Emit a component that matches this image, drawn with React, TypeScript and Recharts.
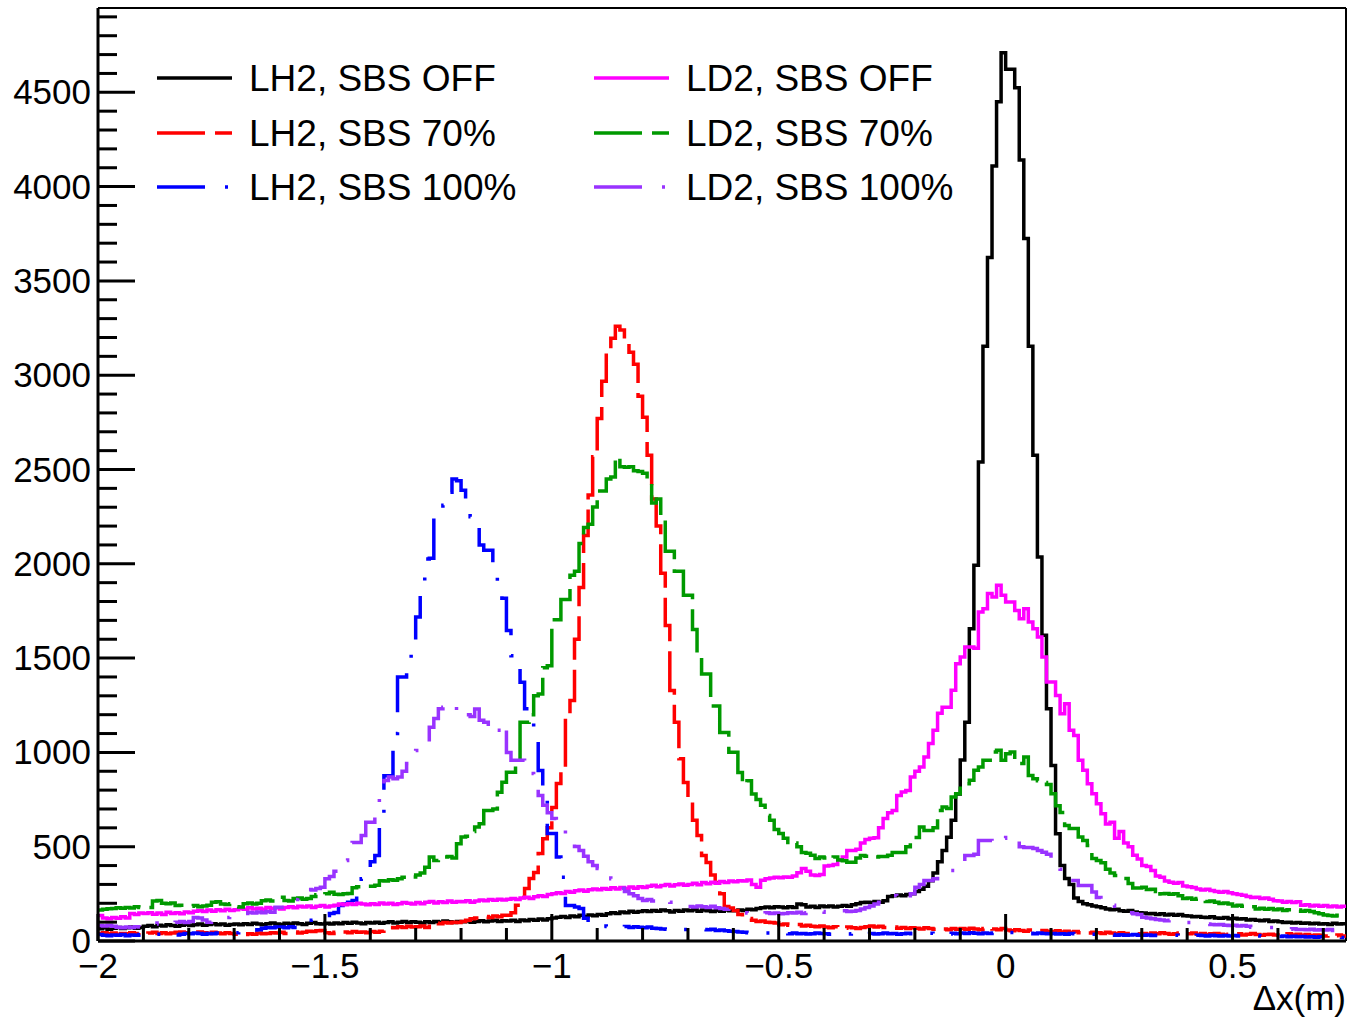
import React from 'react';
import { LineChart, Line, XAxis, YAxis, ReferenceLine, Legend } from 'recharts';

// canvas and plot frame (pixels)
const WIDTH = 1348;
const HEIGHT = 1018;
const PLOT_LEFT = 98;
const PLOT_TOP = 8;
const PLOT_RIGHT = 1346;
const PLOT_BOTTOM = 941;
const FONT = '"Liberation Sans", Arial, Helvetica, sans-serif';

const X_MIN = -2;
const X_MAX = 0.75;
const BIN_WIDTH = 0.01;
const Y_MAX = 4947;

const xMajorTicks = [-2, -1.5, -1, -0.5, 0, 0.5];
const xTickLabels = ['−2', '−1.5', '−1', '−0.5', '0', '0.5'];
const xMinorTicks = [
  -2, -1.9, -1.8, -1.7, -1.6, -1.5, -1.4, -1.3, -1.2, -1.1, -1, -0.9, -0.8, -0.7,
  -0.6, -0.5, -0.4, -0.3, -0.2, -0.1, 0, 0.1, 0.2, 0.3, 0.4, 0.5, 0.6, 0.7,
];
const yMajorTicks = [0, 500, 1000, 1500, 2000, 2500, 3000, 3500, 4000, 4500];
const yTickLabels = ['0', '500', '1000', '1500', '2000', '2500', '3000', '3500', '4000', '4500'];
const yMinorTicks = [
  0, 100, 200, 300, 400, 500, 600, 700, 800, 900, 1000, 1100, 1200, 1300, 1400, 1500, 1600,
  1700, 1800, 1900, 2000, 2100, 2200, 2300, 2400, 2500, 2600, 2700, 2800, 2900, 3000, 3100,
  3200, 3300, 3400, 3500, 3600, 3700, 3800, 3900, 4000, 4100, 4200, 4300, 4400, 4500, 4600,
  4700, 4800, 4900,
];

// bin contents, 0.01 m bins from -2.00 to 0.74 (one row = 0.1 m)
const lh2SbsOff = [
  65, 70, 62, 68, 72, 66, 70, 74, 68, 72,
  78, 82, 76, 84, 80, 86, 82, 78, 84, 88,
  82, 86, 90, 84, 88, 92, 86, 90, 84, 88,
  90, 86, 92, 88, 94, 90, 86, 92, 96, 90,
  88, 94, 90, 96, 92, 88, 94, 98, 92, 90,
  94, 90, 96, 92, 98, 94, 100, 96, 92, 98,
  96, 100, 94, 98, 102, 96, 100, 104, 98, 102,
  100, 96, 102, 98, 104, 100, 106, 102, 98, 104,
  102, 106, 100, 104, 108, 102, 106, 110, 104, 108,
  106, 110, 104, 112, 108, 114, 110, 116, 112, 118,
  122, 126, 130, 124, 132, 128, 136, 130, 138, 134,
  140, 136, 144, 150, 146, 154, 150, 158, 152, 156,
  160, 156, 162, 158, 164, 160, 154, 162, 158, 164,
  160, 166, 158, 164, 160, 156, 162, 158, 164, 160,
  160, 164, 162, 168, 166, 172, 176, 180, 176, 182,
  180, 176, 182, 178, 196, 192, 180, 184, 178, 186,
  182, 186, 180, 184, 188, 184, 192, 198, 204, 206,
  204, 210, 206, 214, 236, 240, 244, 240, 246, 250,
  262, 274, 290, 320, 360, 420, 480, 550, 640, 780,
  960, 1160, 1656, 1992, 2540, 3154, 3624, 4109, 4450, 4710,
  4622, 4622, 4524, 4141, 3725, 3154, 2576, 2036, 1621, 1232,
  931, 569, 400, 331, 300, 228, 210, 198, 192, 186,
  182, 176, 170, 166, 168, 160, 158, 162, 154, 150,
  148, 144, 146, 140, 144, 138, 142, 136, 140, 134,
  132, 128, 130, 126, 124, 128, 122, 120, 124, 118,
  120, 116, 118, 112, 114, 110, 108, 112, 104, 106,
  102, 98, 100, 96, 98, 94, 96, 92, 94, 90,
  92, 88, 94, 90, 92,
];

const lh2Sbs70 = [
  40, 44, 38, 42, 36, 40, 38, 44, 40, 42,
  38, 42, 46, 40, 44, 38, 42, 46, 48, 44,
  46, 42, 48, 44, 40, 46, 42, 38, 44, 40,
  36, 40, 34, 38, 36, 42, 38, 40, 44, 42,
  46, 40, 44, 48, 42, 46, 52, 50, 54, 56,
  44, 40, 46, 42, 48, 44, 50, 46, 48, 44,
  50, 46, 52, 68, 72, 70, 76, 72, 78, 74,
  76, 80, 72, 90, 94, 92, 98, 96, 100, 98,
  104, 110, 118, 122, 126, 130, 124, 132, 128, 136,
  136, 150, 190, 231, 278, 331, 363, 464, 542, 600,
  708, 835, 904, 1203, 1275, 1600, 1875, 2150, 2365, 2567,
  2770, 2968, 3133, 3196, 3260, 3240, 3170, 3122, 3058, 2888,
  2777, 2576, 2343, 2200, 1950, 1673, 1328, 1160, 967, 840,
  745, 640, 560, 453, 416, 350, 310, 250, 183, 175,
  162, 140, 125, 119, 110, 103, 106, 100, 98, 96,
  86, 90, 84, 82, 88, 80, 84, 78, 76, 80,
  74, 70, 76, 72, 68, 74, 70, 66, 72, 76,
  80, 74, 78, 72, 70, 74, 68, 72, 66, 70,
  68, 64, 70, 66, 62, 68, 64, 60, 66, 62,
  66, 62, 68, 64, 60, 66, 70, 64, 60, 66,
  58, 54, 60, 56, 52, 58, 54, 50, 56, 52,
  50, 54, 48, 52, 46, 50, 44, 48, 42, 46,
  44, 40, 46, 42, 38, 44, 40, 36, 42, 38,
  40, 36, 42, 38, 44, 40, 36, 38, 42, 36,
  38, 42, 36, 40, 34, 38, 40, 36, 32, 36,
  34, 38, 32, 36, 40, 34, 30, 34, 36, 32,
  30, 34, 38, 32, 36, 30, 34, 28, 32, 30,
  26, 30, 28, 32, 26,
];

const lh2Sbs100 = [
  34, 30, 28, 32, 30, 34, 28, 32, 30, 34,
  30, 34, 32, 36, 30, 34, 38, 32, 36, 40,
  38, 42, 40, 36, 40, 38, 42, 44, 40, 46,
  44, 48, 46, 50, 48, 60, 68, 72, 70, 74,
  74, 70, 76, 72, 78, 84, 100, 110, 119, 130,
  135, 146, 151, 188, 196, 205, 215, 250, 330, 380,
  420, 453, 666, 876, 876, 1100, 1400, 1400, 1420, 1550,
  1718, 1903, 2026, 2030, 2257, 2280, 2310, 2380, 2450, 2440,
  2390, 2275, 2250, 2213, 2100, 2072, 2072, 1992, 1900, 1817,
  1647, 1513, 1513, 1372, 1232, 1200, 1100, 904, 745, 570,
  570, 445, 338, 188, 188, 180, 172, 120, 95, 95,
  90, 80, 77, 75, 78, 74, 77, 72, 76, 73,
  70, 74, 68, 66, 64, 62, 65, 60, 63, 61,
  60, 62, 58, 61, 59, 62, 56, 58, 55, 52,
  50, 48, 46, 44, 45, 42, 40, 43, 41, 40,
  38, 41, 39, 42, 38, 40, 37, 39, 42, 40,
  38, 36, 40, 38, 41, 37, 39, 36, 40, 38,
  40, 37, 39, 42, 38, 40, 36, 39, 41, 38,
  40, 43, 39, 41, 38, 42, 40, 37, 41, 39,
  42, 40, 44, 41, 38, 43, 40, 42, 39, 44,
  41, 45, 42, 40, 44, 41, 39, 42, 40, 38,
  40, 37, 39, 36, 40, 38, 35, 37, 34, 36,
  33, 35, 32, 34, 31, 33, 30, 32, 34, 31,
  30, 32, 29, 31, 33, 30, 28, 31, 29, 32,
  30, 28, 31, 29, 27, 30, 28, 26, 29, 27,
  29, 26, 28, 25, 27, 29, 26, 24, 27, 25,
  24, 26, 23, 25, 22, 24, 21, 23, 20, 22,
  21, 19, 22, 20, 18,
];

const ld2SbsOff = [
  135, 122, 118, 125, 120, 128, 122, 146, 140, 148,
  146, 150, 142, 148, 140, 152, 146, 150, 144, 154,
  150, 158, 162, 156, 164, 158, 166, 160, 168, 162,
  166, 172, 168, 176, 170, 174, 168, 178, 172, 176,
  170, 178, 182, 176, 184, 180, 186, 178, 184, 188,
  180, 186, 190, 196, 192, 198, 194, 200, 196, 192,
  198, 194, 202, 196, 200, 194, 198, 204, 200, 196,
  204, 198, 206, 210, 202, 208, 204, 212, 206, 210,
  208, 214, 206, 212, 218, 214, 220, 216, 222, 218,
  222, 226, 220, 228, 232, 226, 234, 240, 236, 246,
  250, 256, 252, 262, 258, 266, 270, 264, 272, 276,
  272, 278, 274, 282, 276, 284, 278, 286, 280, 288,
  284, 290, 296, 288, 294, 300, 292, 298, 302, 296,
  300, 306, 298, 310, 304, 312, 306, 316, 310, 318,
  314, 320, 318, 324, 300, 285, 322, 330, 334, 338,
  336, 340, 338, 344, 362, 385, 370, 350, 347, 352,
  398, 400, 405, 430, 445, 480, 480, 486, 520, 538,
  545, 548, 600, 650, 680, 692, 772, 790, 798, 869,
  900, 922, 975, 1047, 1117, 1207, 1240, 1240, 1329, 1470,
  1506, 1559, 1559, 1552, 1744, 1762, 1842, 1824, 1886, 1833,
  1797, 1797, 1753, 1709, 1762, 1691, 1656, 1612, 1506, 1373,
  1373, 1302, 1205, 1258, 1117, 1090, 958, 905, 834, 781,
  728, 675, 620, 630, 545, 580, 520, 500, 455, 435,
  400, 395, 374, 345, 338, 318, 312, 306, 310, 292,
  288, 284, 276, 270, 274, 268, 262, 258, 262, 256,
  250, 246, 242, 236, 230, 232, 226, 228, 222, 214,
  212, 206, 210, 204, 208, 190, 192, 186, 190, 184,
  188, 182, 186, 180, 184,
];

const ld2Sbs70 = [
  165, 168, 171, 172, 176, 174, 178, 175, 182, 178,
  180, 178, 212, 215, 200, 198, 202, 188, 190, 186,
  184, 188, 182, 186, 190, 205, 208, 196, 194, 197,
  182, 180, 198, 202, 196, 200, 214, 218, 212, 226,
  232, 215, 212, 225, 228, 222, 226, 236, 245, 242,
  250, 259, 248, 246, 250, 252, 282, 288, 285, 290,
  290, 295, 320, 318, 325, 322, 330, 338, 345, 340,
  350, 360, 391, 445, 427, 430, 445, 448, 440, 516,
  551, 556, 580, 604, 622, 692, 692, 700, 789, 842,
  895, 895, 948, 1160, 1160, 1200, 1300, 1310, 1449, 1460,
  1704, 1704, 1811, 1811, 1939, 1960, 2108, 2193, 2210, 2301,
  2386, 2386, 2450, 2460, 2567, 2514, 2512, 2515, 2493, 2490,
  2480, 2438, 2322, 2343, 2237, 2066, 2066, 1960, 1960, 1833,
  1833, 1652, 1512, 1416, 1416, 1246, 1246, 1106, 1106, 1001,
  1001, 894, 830, 850, 780, 750, 720, 666, 640, 591,
  570, 545, 512, 520, 500, 469, 465, 455, 438, 445,
  440, 432, 445, 430, 425, 418, 418, 440, 453, 450,
  453, 445, 448, 448, 455, 469, 469, 469, 500, 549,
  549, 604, 586, 586, 600, 692, 710, 703, 763, 781,
  834, 834, 852, 905, 922, 958, 958, 1002, 1011, 958,
  993, 1002, 941, 941, 975, 878, 860, 850, 840, 830,
  781, 717, 681, 613, 597, 597, 551, 533, 506, 438,
  427, 415, 380, 360, 347, 335, 331, 305, 281, 281,
  285, 273, 275, 232, 250, 252, 248, 250, 240, 225,
  228, 222, 225, 215, 209, 212, 205, 199, 202, 196,
  186, 190, 184, 188, 182, 170, 174, 168, 172, 166,
  170, 162, 166, 160, 164, 158, 162, 156, 150, 145,
  138, 135, 132, 136, 130,
];

const ld2Sbs100 = [
  82, 80, 84, 78, 73, 70, 74, 72, 76, 74,
  80, 86, 90, 96, 92, 98, 94, 100, 103, 98,
  104, 125, 122, 112, 100, 106, 110, 118, 124, 130,
  134, 140, 146, 151, 148, 154, 150, 156, 152, 179,
  179, 185, 200, 220, 240, 262, 273, 270, 278, 285,
  330, 342, 370, 400, 427, 460, 522, 522, 560, 630,
  630, 700, 760, 851, 869, 860, 869, 900, 941, 990,
  1010, 1047, 1047, 1133, 1180, 1232, 1240, 1250, 1258, 1187,
  1187, 1200, 1190, 1230, 1170, 1160, 1100, 1110, 1117, 1154,
  1000, 958, 958, 958, 930, 888, 830, 772, 720, 680,
  650, 640, 600, 554, 530, 501, 480, 450, 420, 400,
  385, 385, 360, 330, 300, 280, 262, 250, 240, 225,
  215, 220, 212, 218, 210, 215, 205, 198, 190, 185,
  183, 180, 186, 182, 178, 184, 176, 172, 168, 170,
  165, 162, 150, 148, 152, 146, 144, 150, 146, 148,
  144, 146, 150, 148, 152, 146, 150, 154, 150, 156,
  152, 158, 154, 156, 160, 156, 158, 162, 170, 178,
  185, 196, 205, 215, 230, 241, 235, 241, 224, 250,
  285, 300, 321, 321, 330, 350, 360, 374, 374, 410,
  410, 453, 453, 460, 533, 533, 533, 520, 540, 545,
  560, 560, 530, 500, 496, 496, 490, 480, 470, 460,
  440, 427, 380, 321, 321, 321, 294, 294, 294, 260,
  230, 199, 199, 190, 171, 171, 165, 150, 145, 140,
  126, 122, 118, 114, 112, 108, 110, 104, 102, 100,
  98, 95, 95, 92, 90, 88, 86, 88, 84, 82,
  84, 80, 82, 78, 73, 73, 70, 73, 72, 68,
  66, 64, 62, 65, 61, 61, 60, 62, 58, 60,
  58, 61, 56, 40, 30,
];

const SERIES = [
  { key: 'lh2Off', name: 'LH2, SBS OFF', color: '#000000', dash: undefined, values: lh2SbsOff },
  { key: 'lh2_70', name: 'LH2, SBS 70%', color: '#ff0000', dash: '48 10', values: lh2Sbs70 },
  { key: 'lh2_100', name: 'LH2, SBS 100%', color: '#0000ff', dash: '48 20 3 20', values: lh2Sbs100 },
  { key: 'ld2Off', name: 'LD2, SBS OFF', color: '#ff00ff', dash: undefined, values: ld2SbsOff },
  { key: 'ld2_70', name: 'LD2, SBS 70%', color: '#009900', dash: '48 10', values: ld2Sbs70 },
  { key: 'ld2_100', name: 'LD2, SBS 100%', color: '#9933ff', dash: '48 20 3 20', values: ld2Sbs100 },
];

// one point per bin low edge, plus the upper edge of the last bin so the step closes
const data: Array<Record<string, number>> = lh2SbsOff.map((_, i) => {
  const row: Record<string, number> = { x: Math.round((X_MIN + i * BIN_WIDTH) * 100) / 100 };
  SERIES.forEach(s => { row[s.key] = s.values[i]; });
  return row;
});
const lastRow: Record<string, number> = { x: X_MAX };
SERIES.forEach(s => { lastRow[s.key] = s.values[s.values.length - 1]; });
data.push(lastRow);

function XTick({ x, payload }: any) {
  const i = xMajorTicks.indexOf(payload.value);
  const len = i >= 0 ? 27 : 13;
  return (
    <g>
      <line x1={x} x2={x} y1={PLOT_BOTTOM} y2={PLOT_BOTTOM - len} stroke="#000" strokeWidth={3} />
      {i >= 0 && (
        <text x={x} y={978} textAnchor="middle" fontSize={35} fontFamily={FONT} fill="#000">
          {xTickLabels[i]}
        </text>
      )}
    </g>
  );
}

function YTick({ y, payload }: any) {
  const i = yMajorTicks.indexOf(payload.value);
  const len = i >= 0 ? 37 : 19;
  return (
    <g>
      <line x1={PLOT_LEFT} x2={PLOT_LEFT + len} y1={y} y2={y} stroke="#000" strokeWidth={3} />
      {i >= 0 && (
        <text x={91} y={y + 12} textAnchor="end" fontSize={35} fontFamily={FONT} fill="#000">
          {yTickLabels[i]}
        </text>
      )}
    </g>
  );
}

const LEGEND_ROWS = [78, 133, 187];
const LEGEND_COLS = [{ lineX: 157, textX: 249 }, { lineX: 594, textX: 686 }];

function LegendBox() {
  return (
    <svg width={WIDTH} height={220} style={{ display: 'block' }}>
      {SERIES.map((s, i) => {
        const col = LEGEND_COLS[Math.floor(i / 3)];
        const y = LEGEND_ROWS[i % 3];
        return (
          <g key={s.key}>
            <line x1={col.lineX} x2={col.lineX + 75} y1={y} y2={y} stroke={s.color}
              strokeWidth={3.5} strokeDasharray={s.dash} />
            <text x={col.textX} y={y + 13} fontSize={37} fontFamily={FONT} fill="#000">{s.name}</text>
          </g>
        );
      })}
    </svg>
  );
}

export default function App() {
  return (
    <div style={{ position: 'absolute', left: 0, top: 0, width: WIDTH, height: HEIGHT, background: '#fff' }}>
      <LineChart width={WIDTH} height={HEIGHT} data={data}
        margin={{ top: PLOT_TOP, right: WIDTH - PLOT_RIGHT, bottom: 0, left: 0 }}>
        <XAxis dataKey="x" type="number" domain={[X_MIN, X_MAX]} ticks={xMinorTicks} interval={0}
          allowDataOverflow height={HEIGHT - PLOT_BOTTOM} tickLine={false} tick={<XTick />}
          axisLine={{ stroke: '#000', strokeWidth: 3 }}
          label={{
            content: () => (
              <text x={PLOT_RIGHT} y={1010} textAnchor="end" fontSize={35} fontFamily={FONT} fill="#000">
                Δx(m)
              </text>
            ),
          }} />
        <YAxis type="number" domain={[0, Y_MAX]} ticks={yMinorTicks} interval={0} allowDataOverflow
          width={PLOT_LEFT} tickLine={false} tick={<YTick />} axisLine={{ stroke: '#000', strokeWidth: 3 }} />
        <ReferenceLine y={Y_MAX} stroke="#000" strokeWidth={2} />
        <ReferenceLine x={X_MAX} stroke="#000" strokeWidth={2} />
        {SERIES.map(s => (
          <Line key={s.key} type="stepAfter" dataKey={s.key} stroke={s.color} strokeWidth={3.5}
            strokeDasharray={s.dash} dot={false} activeDot={false} isAnimationActive={false} />
        ))}
        <Legend layout="horizontal" verticalAlign="middle" align="center" content={<LegendBox />}
          wrapperStyle={{ left: 0, top: 0, width: WIDTH, height: 220 }} />
      </LineChart>
    </div>
  );
}
